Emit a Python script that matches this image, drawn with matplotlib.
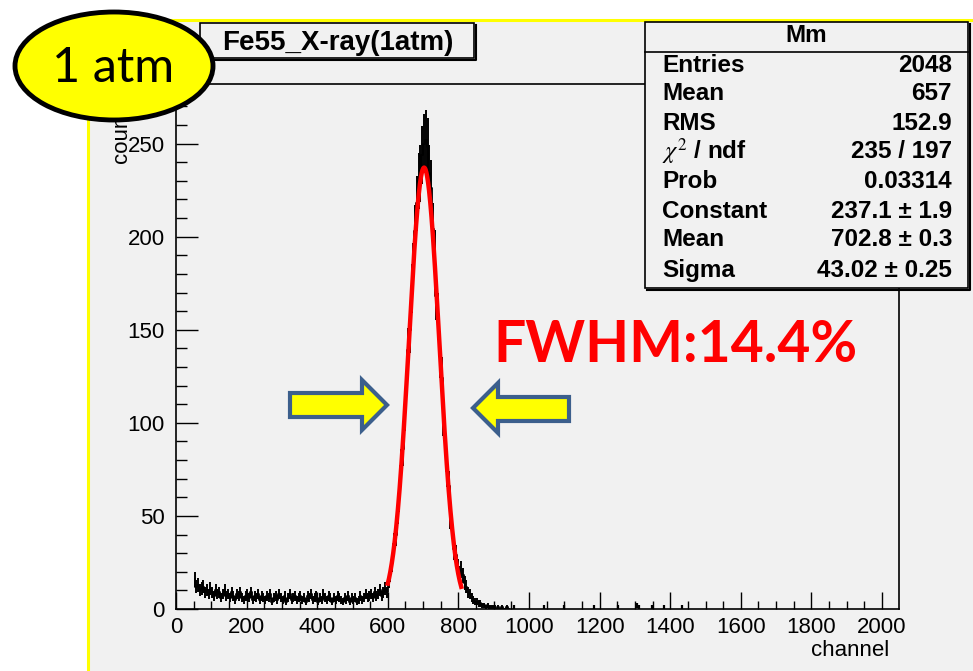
import numpy as np
import matplotlib
matplotlib.use('Agg')
import matplotlib.pyplot as plt
from matplotlib.patches import Ellipse, Rectangle, Polygon
from matplotlib.lines import Line2D

# histogram contents, 5-channel bins starting at channel 50
bin_start = 50
bin_width = 5
counts = [
    16, 12, 13, 10, 11, 12, 9, 10, 8, 11, 9, 7, 10, 8, 9, 6, 8, 10, 7, 8,
    6, 9, 7, 5, 8, 7, 9, 6, 5, 7, 8, 6, 9, 5, 7, 6, 8, 5, 7, 6,
    5, 7, 6, 8, 4, 6, 7, 5, 8, 6, 5, 7, 4, 6, 8, 5, 6, 7, 5, 6,
    7, 5, 6, 4, 7, 6, 8, 5, 6, 7, 4, 6, 5, 8, 6, 5, 7, 6, 4, 6,
    5, 7, 6, 5, 4, 6, 5, 7, 4, 6, 5, 6, 4, 5, 7, 5, 6, 8, 6, 7,
    8, 6, 9, 7, 8, 10, 7, 9, 11, 9, 15, 19, 25, 35, 40, 53, 60, 77, 86, 106,
    117, 139, 150, 172, 183, 203, 218, 230, 234, 244, 250, 252, 248, 234, 226, 204, 190, 168, 157, 136,
    124, 103, 92, 74, 66, 50, 44, 32, 29, 22, 19, 21, 18, 14, 12, 9, 8, 6, 5, 4,
    4, 3, 3, 2, 2, 1, 2, 1, 1, 1, 1, 0, 1, 0, 1, 0, 0, 1, 0,
]
# sparse single entries far in the tail
tail_channels = [957, 1043, 1098, 1183, 1252, 1306, 1312, 1348, 1381, 1433]
tail_counts = [1, 1, 1, 1, 1, 2, 1, 1, 1, 1]

# gaussian fit (from the stats box)
fit_const = 237.1
fit_mean = 702.8
fit_sigma = 43.02
fit_lo, fit_hi = 600, 808

stats_title = 'Mm'
stats_labels = ['Entries', 'Mean', 'RMS', r'$\chi^{2}$ / ndf', 'Prob', 'Constant', 'Mean', 'Sigma']
stats_values = ['2048', '657', '152.9', '235 / 197', '0.03314',
                '237.1 \u00b1 1.9', '702.8 \u00b1 0.3', '43.02 \u00b1 0.25']

x_ticks = list(range(0, 2001, 200))
y_ticks = [0, 50, 100, 150, 200, 250]

W, H = 973, 671
BG = '#f1f1f1'
ROOT_FONT = 'Liberation Sans'

plt.rcParams['mathtext.fontset'] = 'stix'


def fx(x):
    return x / W


def fy(y):
    return 1 - y / H


fig = plt.figure(figsize=(W / 100, H / 100), dpi=100)
fig.patch.set_facecolor('white')

# canvas background with yellow border
fig.add_artist(Rectangle((fx(88), 0), 1 - fx(88), fy(20), transform=fig.transFigure,
                         facecolor=BG, edgecolor='none', zorder=-5))
fig.add_artist(Line2D([fx(88), fx(88), 1], [0, fy(20), fy(20)], transform=fig.transFigure,
                      color='#ffff00', lw=2.2, zorder=-4))

ax = fig.add_axes([fx(176), fy(609), fx(899) - fx(176), fy(84) - fy(609)])
ax.set_facecolor(BG)

centers = bin_start + bin_width * np.arange(len(counts)) + bin_width / 2
vals = np.array(counts, dtype=float)
err = np.sqrt(vals)
ax.plot(centers, vals, drawstyle='steps-mid', color='black', lw=1.3, zorder=2)
nz = vals > 0
ax.vlines(centers[nz], vals[nz] - err[nz], vals[nz] + err[nz], color='black', lw=1.4, zorder=2)

tc = np.array(tail_counts, dtype=float)
ax.vlines(tail_channels, tc - np.sqrt(tc), tc + np.sqrt(tc), color='black', lw=1.6, zorder=2)

xf = np.linspace(fit_lo, fit_hi, 300)
yf = fit_const * np.exp(-0.5 * ((xf - fit_mean) / fit_sigma) ** 2)
ax.plot(xf, yf, color='#ff0000', lw=3.2, zorder=3)

ax.set_xlim(0, 2048)
ax.set_ylim(0, 282)
ax.set_xticks(x_ticks)
ax.set_xticks(np.arange(0, 2049, 50), minor=True)
ax.set_yticks(y_ticks)
ax.set_yticks(np.arange(0, 281, 10), minor=True)
ax.tick_params(axis='x', which='major', direction='in', length=12, width=1, pad=6)
ax.tick_params(axis='x', which='minor', direction='in', length=6, width=1)
ax.tick_params(axis='y', which='major', direction='in', length=16, width=1, pad=8)
ax.tick_params(axis='y', which='minor', direction='in', length=8, width=1)
for lab in ax.get_xticklabels() + ax.get_yticklabels():
    lab.set_fontfamily(ROOT_FONT)
    lab.set_fontsize(16)
for sp in ax.spines.values():
    sp.set_linewidth(1.2)

fig.text(fx(889), fy(650), 'channel', ha='right', va='center', fontsize=16, family=ROOT_FONT)
fig.text(fx(121), fy(163), 'counts', rotation=90, rotation_mode='anchor', ha='left', va='center',
         fontsize=16, family=ROOT_FONT)

# title box
fig.add_artist(Rectangle((fx(200), fy(58)), fx(474) - fx(200), fy(23) - fy(58),
                         transform=fig.transFigure, facecolor=BG, edgecolor='black', lw=1.2, zorder=4))
fig.add_artist(Line2D([fx(202), fx(476), fx(476)], [fy(60), fy(60), fy(25)], transform=fig.transFigure,
                      color='black', lw=1.5, zorder=4))
fig.text(fx(338), fy(43), 'Fe55_X-ray(1atm)', ha='center', va='center', fontsize=20,
         fontweight='bold', family=ROOT_FONT, zorder=5)

# stats box
bx0, bx1, by0, by1 = 645, 968, 22, 288
fig.add_artist(Rectangle((fx(bx0), fy(by1)), fx(bx1) - fx(bx0), fy(by0) - fy(by1),
                         transform=fig.transFigure, facecolor=BG, edgecolor='black', lw=1.2, zorder=4))
fig.add_artist(Line2D([fx(bx0 + 2), fx(bx1 + 2), fx(bx1 + 2)], [fy(by1 + 2), fy(by1 + 2), fy(by0 + 2)],
                      transform=fig.transFigure, color='black', lw=1.5, zorder=4))
fig.add_artist(Line2D([fx(bx0), fx(bx1)], [fy(52), fy(52)], transform=fig.transFigure,
                      color='black', lw=1.2, zorder=5))
fig.text(fx((bx0 + bx1) / 2), fy(36), stats_title, ha='center', va='center', fontsize=17.5,
         fontweight='bold', family=ROOT_FONT, zorder=6)
row_y = [65, 94, 123, 152, 181, 212, 240, 270]
for lbl, val, yy in zip(stats_labels, stats_values, row_y):
    fig.text(fx(662), fy(yy), lbl, ha='left', va='center', fontsize=17.5, fontweight='bold',
             family=ROOT_FONT, zorder=6)
    fig.text(fx(952), fy(yy), val, ha='right', va='center', fontsize=17.5, fontweight='bold',
             family=ROOT_FONT, zorder=6)

# "1 atm" bubble
fig.add_artist(Ellipse((fx(114), fy(66)), 198 / W, 108 / H, transform=fig.transFigure,
                       facecolor='#ffff00', edgecolor='black', lw=3.5, zorder=8))
fig.text(fx(113), fy(82), '1 atm', ha='center', va='baseline', fontsize=35, family='Lato', zorder=9)

# FWHM annotation
fig.text(fx(675), fy(362), 'FWHM:14.4%', ha='center', va='baseline', fontsize=41,
         fontweight='bold', family='Lato', color='#ff0000', zorder=9)


def arrow(pts):
    return Polygon([(fx(px), fy(py)) for px, py in pts], closed=True, transform=fig.transFigure,
                   facecolor='#ffff00', edgecolor='#3c5f8c', lw=3, joinstyle='miter', zorder=9)


fig.add_artist(arrow([(290, 393), (362, 393), (362, 380), (387, 405), (362, 430), (362, 417), (290, 417)]))
fig.add_artist(arrow([(569, 397), (498, 397), (498, 383), (473, 408), (498, 433), (498, 421), (569, 421)]))

fig.savefig('out.png', dpi=100, facecolor=fig.get_facecolor())
